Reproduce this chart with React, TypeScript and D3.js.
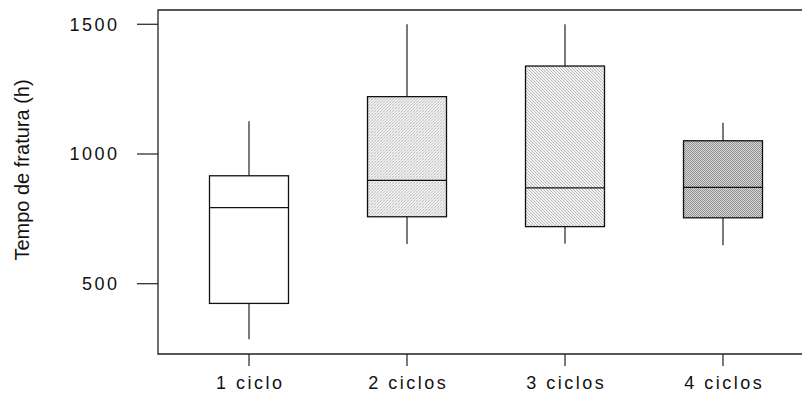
import React, { useEffect, useRef } from "react";
import * as d3 from "d3";

const categories = ["1 ciclo", "2 ciclos", "3 ciclos", "4 ciclos"];
const whiskerLow = [286, 653, 654, 648];
const q1 = [424, 758, 720, 754];
const median = [793, 898, 869, 871];
const q3 = [916, 1221, 1339, 1051];
const whiskerHigh = [1126, 1500, 1500, 1120];
const fills = ["#ffffff", "url(#pat2)", "url(#pat3)", "url(#pat4)"];
const yTicks = [500, 1000, 1500];
const yLabel = "Tempo de fratura (h)";

const App = () => {
  const ref = useRef<SVGSVGElement | null>(null);

  useEffect(() => {
    const width = 802;
    const left = 158;
    const top = 10;
    const bottom = 354;
    const font = "Arial, 'Liberation Sans', sans-serif";

    const svg = d3.select(ref.current);
    svg.selectAll("*").remove();

    // fill patterns for the boxes
    const defs = svg.append("defs");
    const p2 = defs
      .append("pattern")
      .attr("id", "pat2")
      .attr("patternUnits", "userSpaceOnUse")
      .attr("width", 3)
      .attr("height", 3);
    p2.append("rect").attr("width", 3).attr("height", 3).attr("fill", "#f0f0f0");
    p2.append("path").attr("d", "M0,3 L3,0").attr("stroke", "#bdbdbd").attr("stroke-width", 0.8);
    p2.append("path").attr("d", "M0,0 L3,3").attr("stroke", "#dddddd").attr("stroke-width", 0.6);

    const p3 = defs
      .append("pattern")
      .attr("id", "pat3")
      .attr("patternUnits", "userSpaceOnUse")
      .attr("width", 3)
      .attr("height", 3);
    p3.append("rect").attr("width", 3).attr("height", 3).attr("fill", "#f4f4f4");
    p3.append("path").attr("d", "M-1,-1 L4,4 M-1,2 L1,4 M2,-1 L4,1").attr("stroke", "#a8a8a8").attr("stroke-width", 0.8);

    const p4 = defs
      .append("pattern")
      .attr("id", "pat4")
      .attr("patternUnits", "userSpaceOnUse")
      .attr("width", 2)
      .attr("height", 2);
    p4.append("rect").attr("width", 2).attr("height", 2).attr("fill", "#d8d8d8");
    p4.append("rect").attr("width", 1).attr("height", 1).attr("fill", "#909090");
    p4.append("rect").attr("x", 1).attr("y", 1).attr("width", 1).attr("height", 1).attr("fill", "#909090");

    const x = d3
      .scaleBand()
      .domain(categories)
      .range([170, width])
      .paddingInner(0.5)
      .paddingOuter(0.25);

    const y = d3.scaleLinear().domain([229, 1555]).range([bottom, top]);

    // frame
    svg
      .append("path")
      .attr("d", `M${width + 2},${top} L${left},${top} L${left},${bottom} L${width + 2},${bottom}`)
      .attr("fill", "none")
      .attr("stroke", "#222")
      .attr("stroke-width", 1.3);

    // y axis ticks
    const yg = svg.append("g");
    yg.selectAll("line")
      .data(yTicks)
      .join("line")
      .attr("x1", 137)
      .attr("x2", left)
      .attr("y1", (d) => y(d))
      .attr("y2", (d) => y(d))
      .attr("stroke", "#222")
      .attr("stroke-width", 1.2);
    yg.selectAll("text")
      .data(yTicks)
      .join("text")
      .attr("x", 119.5)
      .attr("y", (d) => y(d))
      .attr("dy", "0.35em")
      .attr("text-anchor", "end")
      .attr("font-family", font)
      .attr("font-size", 18)
      .attr("letter-spacing", 2.5)
      .attr("fill", "#111")
      .text((d) => d);

    // x axis ticks
    const xg = svg.append("g");
    xg.selectAll("line")
      .data(categories)
      .join("line")
      .attr("x1", (d) => x(d)! + x.bandwidth() / 2)
      .attr("x2", (d) => x(d)! + x.bandwidth() / 2)
      .attr("y1", bottom)
      .attr("y2", 366)
      .attr("stroke", "#222")
      .attr("stroke-width", 1.2);
    xg.selectAll("text")
      .data(categories)
      .join("text")
      .attr("x", (d) => x(d)! + x.bandwidth() / 2 + 1.25)
      .attr("y", 383)
      .attr("dy", "0.35em")
      .attr("text-anchor", "middle")
      .attr("font-family", font)
      .attr("font-size", 18)
      .attr("letter-spacing", 2.5)
      .attr("fill", "#111")
      .text((d) => d);

    // y axis label
    svg
      .append("text")
      .attr("transform", `translate(22,170) rotate(-90)`)
      .attr("dy", "0.35em")
      .attr("text-anchor", "middle")
      .attr("font-family", font)
      .attr("font-size", 20)
      .attr("fill", "#111")
      .text(yLabel);

    // boxes
    const boxes = svg
      .append("g")
      .selectAll("g")
      .data(categories)
      .join("g");

    boxes
      .append("line")
      .attr("x1", (d) => x(d)! + x.bandwidth() / 2)
      .attr("x2", (d) => x(d)! + x.bandwidth() / 2)
      .attr("y1", (d, i) => y(whiskerLow[i]))
      .attr("y2", (d, i) => y(q1[i]))
      .attr("stroke", "#333")
      .attr("stroke-width", 1.3);
    boxes
      .append("line")
      .attr("x1", (d) => x(d)! + x.bandwidth() / 2)
      .attr("x2", (d) => x(d)! + x.bandwidth() / 2)
      .attr("y1", (d, i) => y(q3[i]))
      .attr("y2", (d, i) => y(whiskerHigh[i]))
      .attr("stroke", "#333")
      .attr("stroke-width", 1.3);
    boxes
      .append("rect")
      .attr("x", (d) => x(d)!)
      .attr("y", (d, i) => y(q3[i]))
      .attr("width", x.bandwidth())
      .attr("height", (d, i) => y(q1[i]) - y(q3[i]))
      .attr("fill", (d, i) => fills[i])
      .attr("stroke", "#111")
      .attr("stroke-width", 1.3);
    boxes
      .append("line")
      .attr("x1", (d) => x(d)!)
      .attr("x2", (d) => x(d)! + x.bandwidth())
      .attr("y1", (d, i) => y(median[i]))
      .attr("y2", (d, i) => y(median[i]))
      .attr("stroke", "#111")
      .attr("stroke-width", 1.3);
  }, []);

  return (
    <svg
      ref={ref}
      width={802}
      height={396}
      style={{ position: "absolute", left: 0, top: 0, background: "#fff" }}
    />
  );
};

export default App;
